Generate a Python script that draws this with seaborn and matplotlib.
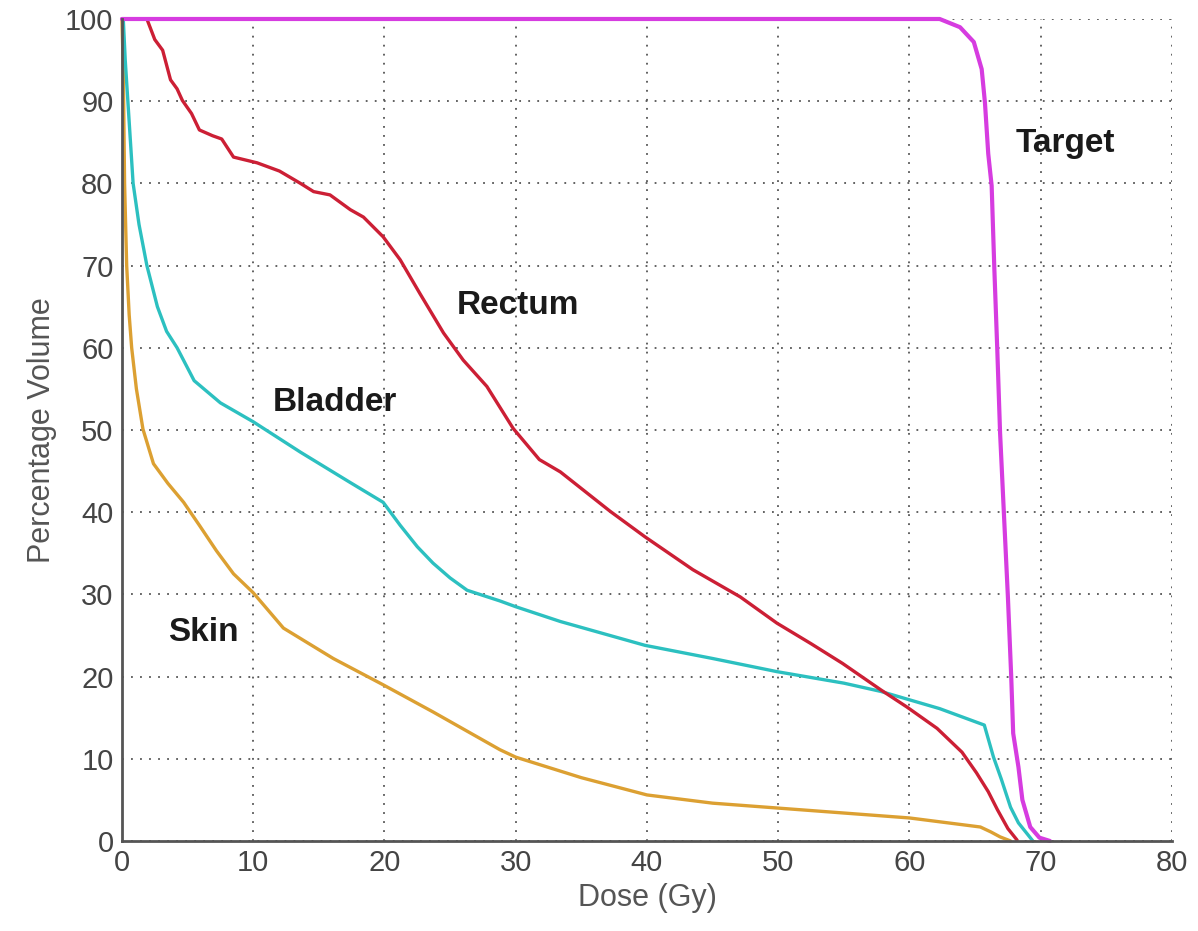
import matplotlib
matplotlib.use("Agg")
import matplotlib.pyplot as plt
import seaborn as sns
import pandas as pd

# ---- data ----
target_dose = [0, 62.3, 63.85, 64.9, 65.5, 65.75, 66.0, 66.26, 66.46, 66.69, 66.9, 67.2, 67.5, 67.75,
               67.9, 68.3, 68.6, 69.2, 69.9, 70.7]
target_vol = [100, 100, 99.0, 97.2, 93.9, 89.8, 83.6, 79.7, 69.8, 59.7, 49.7, 39.6, 29.6, 20.0,
              13.1, 9.0, 5.0, 1.7, 0.4, 0]

rectum_dose = [0, 1.9, 2.5, 3.1, 3.7, 4.2, 4.6, 5.3, 5.9, 6.9, 7.6, 8.5, 10.3, 12.0, 13.6, 14.6, 15.85,
               17.4, 18.4, 19.9, 21.2, 22.7, 24.5, 26.0, 27.8, 29.8, 31.8, 33.4, 37.2, 39.85, 43.5, 47.1,
               49.9, 52.5, 54.9, 57.8, 59.8, 62.1, 64.0, 65.1, 66.0, 66.7, 67.5, 68.2]
rectum_vol = [100, 100, 97.5, 96.2, 92.6, 91.5, 90.1, 88.5, 86.5, 85.8, 85.4, 83.2, 82.5, 81.5, 80.0,
              79.0, 78.6, 76.8, 75.9, 73.5, 70.7, 66.6, 61.8, 58.5, 55.3, 50.2, 46.4, 44.9, 40.1, 37.0,
              33.0, 29.7, 26.5, 24.0, 21.6, 18.4, 16.3, 13.7, 10.8, 8.3, 6.0, 3.8, 1.5, 0.1]

bladder_dose = [0, 0.1, 0.25, 0.45, 0.85, 1.3, 1.9, 2.7, 3.4, 4.2, 5.5, 7.5, 10, 13.6, 17.4, 19.9, 21.2,
                22.5, 23.7, 25.0, 26.3, 28.8, 30, 33.4, 39.85, 45, 49.9, 55, 57.8, 62.3, 65.7, 66.4,
                67.0, 67.7, 68.3, 68.9, 69.4]
bladder_vol = [100, 100, 95, 90, 80, 75, 70, 65, 62, 60, 56, 53.3, 51.0, 47.3, 43.6, 41.2, 38.4, 35.8,
               33.8, 32, 30.5, 29.2, 28.5, 26.7, 23.8, 22.2, 20.6, 19.2, 18.2, 16.1, 14.1, 10.2, 7.5,
               4.1, 2.2, 1.0, 0]

skin_dose = [0, 0.05, 0.1, 0.2, 0.36, 0.55, 0.74, 1.1, 1.6, 2.4, 3.5, 4.7, 5.9, 7.2, 8.5, 10, 12.3,
             16.1, 19.9, 23.7, 28.8, 30, 35, 40, 45, 50, 55, 60, 65.4, 66.2, 66.9, 67.7]
skin_vol = [100, 97, 94, 80, 70, 64, 60, 55, 50.1, 45.9, 43.5, 41.2, 38.4, 35.3, 32.5, 30.2, 25.9,
            22.2, 19.0, 15.7, 11.1, 10.2, 7.7, 5.6, 4.6, 4.0, 3.4, 2.8, 1.7, 1.1, 0.5, 0]

structures = ["Skin", "Bladder", "Rectum", "Target"]
label_pos = {"Target": (71.9, 84.9), "Rectum": (30.2, 65.2), "Bladder": (16.2, 53.3), "Skin": (6.2, 25.4)}
colors = {"Target": "#d63ce0", "Rectum": "#cc1f35", "Bladder": "#2cc0c0", "Skin": "#dca032"}
x_ticks = [0, 10, 20, 30, 40, 50, 60, 70, 80]
y_ticks = [0, 10, 20, 30, 40, 50, 60, 70, 80, 90, 100]

frames = []
for name, d, v in [("Skin", skin_dose, skin_vol), ("Bladder", bladder_dose, bladder_vol),
                   ("Rectum", rectum_dose, rectum_vol), ("Target", target_dose, target_vol)]:
    frames.append(pd.DataFrame({"Dose": d, "Volume": v, "Structure": name}))
df = pd.concat(frames, ignore_index=True)

sns.set_style("white")
plt.rcParams["font.family"] = ["Liberation Sans", "DejaVu Sans"]

fig = plt.figure(figsize=(11.98, 9.31), dpi=100)
ax = fig.add_axes([0.1018, 0.0967, 0.8765, 0.8829])

sns.lineplot(data=df, x="Dose", y="Volume", hue="Structure", hue_order=structures,
             palette=colors, estimator=None, sort=False, units="Structure",
             legend=False, ax=ax, linewidth=2.4)
for line in ax.get_lines():
    line.set_clip_on(False)
    line.set_solid_joinstyle("round")
ax.get_lines()[-1].set_linewidth(3.0)

ax.set_xlim(0, 80)
ax.set_ylim(0, 100)
ax.set_xticks(x_ticks)
ax.set_yticks(y_ticks)
ax.grid(True, linestyle=(0, (1, 4)), color="#555555", linewidth=1.3)
ax.set_axisbelow(True)

for s in ["top", "right"]:
    ax.spines[s].set_visible(False)
for s in ["left", "bottom"]:
    ax.spines[s].set_color("#555555")
    ax.spines[s].set_linewidth(2)

ax.tick_params(direction="in", length=7, width=1.5, color="#555555",
               labelsize=21, labelcolor="#444444", pad=6)
ax.set_xlabel("Dose (Gy)", fontsize=22, color="#555555", labelpad=4)
ax.set_ylabel("Percentage Volume", fontsize=22, color="#555555", labelpad=6)

for name in structures:
    x, y = label_pos[name]
    ax.text(x, y, name, fontsize=24, fontweight="bold", color="#1a1a1a",
            ha="center", va="center")

fig.savefig("out.png", dpi=100, facecolor="white")
